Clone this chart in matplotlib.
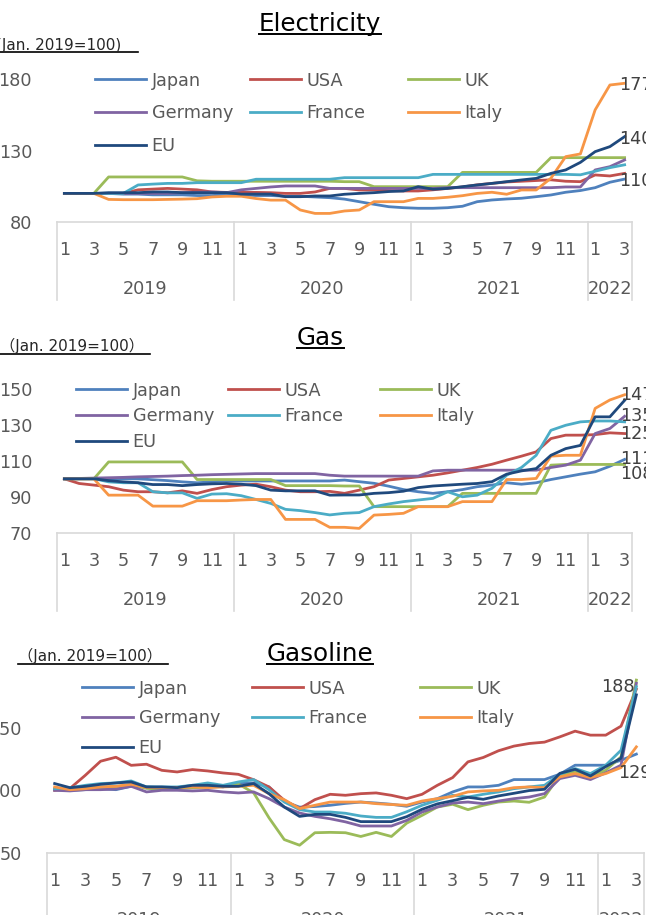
import matplotlib.pyplot as plt
from matplotlib.lines import Line2D
from matplotlib.legend import Legend

W, H = 646, 915

countries = ["Japan", "USA", "UK", "Germany", "France", "Italy", "EU"]
colors = ["#4F81BD", "#C0504D", "#9BBB59", "#8064A2", "#4BACC6", "#F79646", "#1F497D"]

years = ["2019", "2020", "2021", "2022"]
months_in_year = [12, 12, 12, 3]

# Electricity price index, Jan. 2019 = 100 (Jan 2019 .. Mar 2022)
elec_japan = [100, 100, 100, 100, 99.5, 99.5, 99, 99, 99, 98.5, 98.5, 99, 99, 98.5, 98.5, 98, 98, 97.5, 97, 96,
              94.2, 92.4, 90.7, 90, 89.6, 89.6, 90, 91, 94.2, 95.4, 96.1, 96.6, 97.7, 98.9, 100.8, 102, 104, 107.8, 110]
elec_usa = [100, 100, 100, 100, 100, 102.5, 103, 103.5, 103, 102.5, 101, 100.7, 100.7, 100.7, 100.5, 100, 100, 101, 103.5, 103.5,
            102.4, 102.4, 102, 101.7, 101.7, 102.5, 103.5, 104.5, 106, 107, 108, 108.5, 109, 109.5, 108.5, 108.2, 112.9, 112.2, 114]
elec_uk = [100, 100, 100, 111.5, 111.5, 111.5, 111.5, 111.5, 111.5, 108.8, 108.5, 108.5, 108.5, 108.5, 108.5, 108.5, 108.5, 108.5, 108.5, 108.2,
           108.2, 104.7, 104.7, 104.7, 104.7, 104.7, 104.7, 114.7, 114.7, 114.7, 114.7, 114.7, 114.7, 125, 125, 125, 125, 125, 125]
elec_germany = [100, 100, 100, 100, 100, 100, 100, 100, 100.5, 100.8, 101, 100.5, 102.5, 103.5, 104.5, 105.2, 105.2, 105.2, 103.5, 103.5,
                103.5, 103.5, 103.5, 103.5, 103.5, 103.5, 104, 104, 104, 104, 104, 104, 104, 104, 104.5, 104.5, 116.4, 118.7, 123.4]
elec_france = [100, 100, 100, 100, 100, 105.9, 106.5, 107, 107, 107.5, 107.5, 107.5, 107.5, 109.9, 109.9, 109.9, 109.9, 109.9, 109.9, 111,
               111, 111, 111, 111, 111, 113.3, 113.3, 113.3, 113.3, 113.3, 113.3, 113.3, 113.3, 113.3, 113.3, 113, 115.5, 118, 120]
elec_italy = [100, 100, 100, 95.8, 95.6, 95.6, 95.6, 95.8, 96, 96.3, 97.5, 98, 98, 96.4, 95.3, 95.3, 88.4, 86, 86, 87.7,
              88.4, 94.2, 94.2, 94.2, 96.5, 96.5, 97.3, 98.4, 100, 100.8, 99.4, 102.4, 102.4, 110.6, 125.7, 127.6, 158.4, 175.8, 177]
elec_eu = [100, 100, 100, 100.5, 100.5, 100.5, 101, 101, 100.5, 100.5, 100.5, 100.5, 99.5, 99.5, 99.5, 97.7, 97.7, 98.2, 98.2, 99.4,
           100, 100.5, 101.3, 101.7, 104.7, 102.9, 103.5, 104.7, 105.9, 107, 108.2, 109.4, 110.5, 114, 116.4, 121.7, 129.2, 132.7, 139.7]

# Gas price index
gas_japan = [100, 100, 100, 100, 100, 100, 99.5, 99, 98.3, 97.8, 98.3, 99, 98.8, 98.8, 98.8, 98.8, 98.8, 98.8, 98.8, 99.3,
             98.4, 97.5, 95.9, 94, 92.8, 91.9, 92.8, 94, 95.6, 96.5, 97.8, 97, 97.8, 99.6, 101.1, 102.6, 103.9, 107, 110.8]
gas_usa = [100, 97.4, 96.5, 95.6, 93.7, 92.8, 92.8, 92.2, 93.3, 91.9, 94, 95.6, 96.5, 97, 95.6, 93.7, 92.8, 92.8, 93, 91.9,
           93.7, 95.6, 99.3, 100.2, 101.1, 102, 103.3, 104.8, 106.3, 108.1, 110.4, 112.6, 115, 122.4, 124.3, 124.3, 124.6, 125.6, 125.2]
gas_uk = [100, 100, 100, 109.4, 109.4, 109.4, 109.4, 109.4, 109.4, 99.6, 99.6, 99.6, 99.6, 99.6, 99.6, 96.2, 96.2, 96.2, 96.2, 96,
          96, 84.5, 84.5, 84.5, 84.5, 84.5, 84.5, 91.9, 91.9, 91.9, 91.9, 91.9, 91.9, 107.6, 108, 108, 108, 108, 108]
gas_germany = [100, 100.2, 100.4, 100.6, 100.8, 101.1, 101.3, 101.5, 101.8, 102, 102.3, 102.5, 102.7, 102.9, 102.9, 102.9, 102.9, 102.9, 102, 101.5,
               101.5, 101.5, 101.5, 101.5, 101.5, 104.4, 104.8, 104.8, 104.8, 104.8, 104.8, 104.8, 104.8, 106.3, 107.6, 110.4, 125.2, 128, 134.8]
gas_france = [100, 100.1, 100.1, 98.3, 97.8, 97.8, 92.8, 92.2, 92.2, 89.1, 91.5, 91.7, 90.6, 88.5, 86.3, 83, 82.3, 81.2, 79.9, 80.8,
              81.2, 84.5, 86, 87.3, 88.2, 89.1, 92.8, 90, 90.9, 94.7, 102, 106.3, 113.1, 127, 129.8, 131.7, 132.2, 132.2, 131.7]
gas_italy = [100, 100, 100, 90.9, 90.9, 90.9, 84.8, 84.8, 84.8, 87.8, 87.8, 87.8, 88.2, 88.5, 88.5, 77.4, 77.4, 77.4, 73, 73,
             72.4, 79.8, 80.2, 80.8, 84.5, 84.5, 84.5, 87.3, 87.3, 87.3, 99.6, 99.6, 100.2, 112.6, 113.1, 113.1, 139.2, 143.9, 146.8]
gas_eu = [100, 100, 100, 99, 98.3, 97.8, 96.8, 96.8, 96.2, 96.8, 97.2, 97.4, 97, 96.2, 93.7, 93.3, 93.3, 93.3, 90.9, 91,
          91, 91.9, 92.3, 93.1, 95.1, 96, 96.5, 97, 97.4, 98.4, 102.6, 104.4, 105.7, 113.1, 116.8, 118.6, 134.5, 134.5, 143.7]

# Gasoline price index
gsl_japan = [100.5, 100, 100.5, 101.3, 100.5, 103.2, 102.7, 102.1, 102.1, 103.2, 104, 102.7, 105.9, 105.9, 102.7, 91, 86.5, 87, 88, 89.5,
             90.6, 89.8, 88.8, 87.2, 90.6, 93.3, 98.7, 102.7, 102.7, 104, 108.6, 108.6, 108.6, 112.9, 120.1, 120.1, 120.1, 124.1, 129]
gsl_usa = [100, 101.5, 112, 123.3, 126.5, 120, 120.9, 116, 114.7, 116.6, 115.5, 113.9, 112.8, 108.5, 102.7, 92, 85.3, 92.5, 96.8, 96,
           97.3, 97.9, 96, 93.3, 96.8, 104, 110.2, 122.8, 126.3, 131.7, 135.4, 137.5, 138.6, 142.8, 147.4, 144.2, 144.2, 151.4, 181]
gsl_uk = [101, 101, 102, 102.5, 103, 104.5, 101.5, 101, 101.5, 102, 102.5, 103, 105, 98, 78, 60.5, 56, 66, 66.3, 66,
          63, 66.3, 63, 73.7, 79.9, 86.6, 88.8, 84.5, 88, 90.6, 91.4, 90.4, 94.6, 112, 114.7, 110.7, 116.1, 126.8, 188.3]
gsl_germany = [100, 99.5, 100.5, 100.5, 101, 103.2, 98.7, 100, 100, 99.5, 100, 98.7, 97.9, 98.7, 93.3, 86.6, 81.8, 79.1, 77.2, 74.7,
               71.4, 71.4, 71.4, 75.9, 82.6, 86.6, 89.8, 90.6, 89.3, 91.4, 93.3, 94.6, 97.3, 109.4, 112, 108.6, 114, 120.1, 185.7]
gsl_france = [101.3, 102, 104, 105.4, 105.9, 107.5, 102.7, 102.7, 102.7, 104, 105.9, 104, 106.7, 108.6, 100.5, 90.6, 84.5, 82.6, 82.6, 81.6,
              79.4, 78.3, 78.3, 82.8, 88, 92, 96, 94.6, 96.8, 98.7, 101.3, 102.7, 104, 112.9, 117.4, 113.4, 120.1, 132.1, 183]
gsl_italy = [102.7, 100.5, 101.3, 102.7, 103.2, 104.8, 102.2, 102.2, 102.2, 102.7, 102.2, 102.7, 103.2, 104, 97.3, 92.5, 85.3, 88, 90.6, 90.6,
             90.6, 89.3, 88.6, 88, 91.4, 93.3, 95.2, 98.7, 99.5, 100, 102.1, 102.7, 102.1, 110.7, 113.4, 110.2, 113.4, 118.2, 134.8]
gsl_eu = [105.4, 102.1, 103.2, 104.8, 105.9, 106.7, 102.7, 102.7, 102.1, 104, 104, 103.2, 103.2, 105.4, 97.3, 86.6, 79.1, 80.7, 80.7, 78.3,
          74.9, 74.9, 74.9, 78.9, 84.8, 89.1, 91.7, 94.4, 92.8, 95.5, 97.6, 99.8, 100.8, 113.6, 116.8, 111.5, 119, 125.7, 176.5]

elec = [elec_japan, elec_usa, elec_uk, elec_germany, elec_france, elec_italy, elec_eu]
gas = [gas_japan, gas_usa, gas_uk, gas_germany, gas_france, gas_italy, gas_eu]
gasoline = [gsl_japan, gsl_usa, gsl_uk, gsl_germany, gsl_france, gsl_italy, gsl_eu]

GRAY = "#595959"
LINEGRAY = "#d9d9d9"
FS = 12.7

fig = plt.figure(figsize=(W / 100, H / 100), dpi=100)


def px_axes(left, top, right, bottom):
    return fig.add_axes([left / W, 1 - bottom / H, (right - left) / W, (bottom - top) / H])


def hline(x0, x1, y, lw=1.2, color="black"):
    fig.add_artist(Line2D([x0 / W, x1 / W], [1 - y / H, 1 - y / H],
                          transform=fig.transFigure, color=color, lw=lw))


def draw_panel(ax, data, ylim, yticks, leg_x, leg_top, leg_space):
    xs = list(range(sum(months_in_year)))
    lines = []
    for name, col, ys in zip(countries, colors, data):
        ln, = ax.plot(xs, ys, color=col, lw=2.0, label=name, solid_joinstyle="round")
        lines.append(ln)
    ax.set_xlim(-0.5, len(xs) - 0.5)
    ax.set_ylim(*ylim)
    ax.set_yticks(yticks)
    ax.set_xticks([])
    ax.tick_params(axis="y", length=0, pad=18, labelsize=FS, labelcolor=GRAY)
    for s in ["top", "right", "left"]:
        ax.spines[s].set_visible(False)
    ax.spines["bottom"].set_color(LINEGRAY)
    ax.spines["bottom"].set_linewidth(1.2)

    # two-level category axis: months, then years
    h_px = ax.get_position().height * H
    drop = 78 / h_px
    start = 0
    bounds = [-0.5]
    for yr, n in zip(years, months_in_year):
        for m in range(1, n + 1, 2):
            ax.annotate(str(m), xy=(start + m - 1, 0), xycoords=("data", "axes fraction"),
                        xytext=(0, -28), textcoords="offset pixels", ha="center", va="center",
                        fontsize=FS, color=GRAY)
        ax.annotate(yr, xy=(start + (n - 1) / 2, 0), xycoords=("data", "axes fraction"),
                    xytext=(0, -67), textcoords="offset pixels", ha="center", va="center",
                    fontsize=FS, color=GRAY)
        start += n
        bounds.append(start - 0.5)
    for b in bounds:
        ax.plot([b, b], [0, -drop], transform=ax.get_xaxis_transform(), clip_on=False,
                color=LINEGRAY, lw=1.2)

    # legend laid out in three equal-width columns
    for k, x in enumerate(leg_x):
        handles = lines[k::3]
        leg = Legend(ax, handles, [h.get_label() for h in handles], loc="upper left",
                     bbox_to_anchor=(x / W, 1 - leg_top / H), bbox_transform=fig.transFigure,
                     frameon=False, borderpad=0, borderaxespad=0, handlelength=2.87,
                     handletextpad=0.34, labelspacing=leg_space, fontsize=FS,
                     labelcolor=GRAY)
        ax.add_artist(leg)
    return lines


def end_label(ax, series, dx, dy, ha="left"):
    v = series[-1]
    ax.annotate(f"{v:.0f}", xy=(len(series) - 1, v), xytext=(dx, dy), textcoords="offset pixels",
                ha=ha, va="center", fontsize=FS, color="#404040", annotation_clip=False)


ax1 = px_axes(57, 79, 632, 222)
draw_panel(ax1, elec, (80, 180), [80, 130, 180], [95, 250, 408], 71.5, 0.83)
end_label(ax1, elec_italy, -6, -2)
end_label(ax1, elec_eu, -6, -2)
end_label(ax1, elec_japan, -6, -2)

ax2 = px_axes(57, 389, 632, 532.7)
draw_panel(ax2, gas, (70, 150), [70, 90, 110, 130, 150], [76, 228, 380], 381.5, 0.44)
end_label(ax2, gas_italy, -5, 0)
end_label(ax2, gas_germany, -5, 0)
end_label(ax2, gas_usa, -5, 0)
end_label(ax2, gas_japan, -5, 0)
end_label(ax2, gas_uk, -5, -10)

ax3 = px_axes(47, 665.5, 644, 852.7)
draw_panel(ax3, gasoline, (50, 200), [50, 100, 150], [82, 252, 420], 679.5, 0.66)
end_label(ax3, gsl_uk, -2, -7, ha="right")
end_label(ax3, gsl_japan, -18, -19)

# panel titles and unit notes
titles = [("Electricity", 31), ("Gas", 345), ("Gasoline", 661)]
title_texts = []
for txt, base in titles:
    t = fig.text(320 / W, 1 - base / H, txt, ha="center", va="baseline", fontsize=17.7, color="black")
    title_texts.append((t, base))

unit_font = ["DejaVu Sans", "Noto Sans CJK JP"]
fig.text(-4 / W, 1 - 50 / H, "(Jan. 2019=100)", ha="left", va="baseline", fontsize=11,
         color="#262626", family=unit_font)
hline(0, 138, 52)
fig.text(0 / W, 1 - 351.5 / H, "（Jan. 2019=100）", ha="left", va="baseline", fontsize=11,
         color="#262626", family=unit_font)
hline(0, 150, 354)
fig.text(18 / W, 1 - 661.5 / H, "（Jan. 2019=100）", ha="left", va="baseline", fontsize=11,
         color="#262626", family=unit_font)
hline(18, 168, 663.5)

fig.canvas.draw()
for t, base in title_texts:
    bb = t.get_window_extent()
    hline(bb.x0, bb.x1, base + 2.5, lw=1.4)

fig.savefig("out.png", dpi=100)
